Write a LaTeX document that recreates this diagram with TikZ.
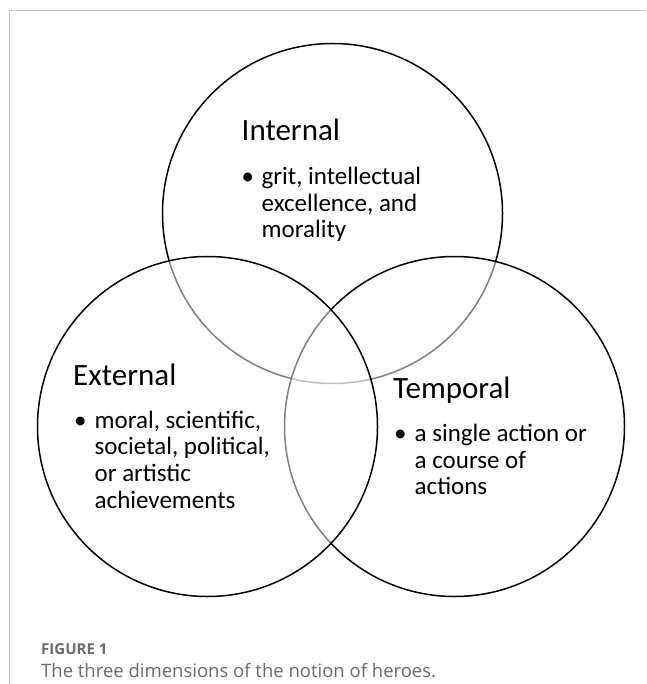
\documentclass[tikz,border=0pt]{standalone}
\usepackage{fontspec}
\setmainfont{Carlito}
\newfontfamily\captionfont{Open Sans}
\begin{document}
\begin{tikzpicture}[x=1pt,y=-1pt,
  ring/.style={draw=black,line width=1.5pt,fill=white,fill opacity=0.5},
  heading/.style={anchor=base west,inner sep=0pt,font=\fontsize{31}{37}\selectfont},
  bulletmark/.style={anchor=base west,inner sep=0pt,font=\fontsize{25}{27}\selectfont},
  itemline/.style={anchor=base west,inner sep=0pt,font=\fontsize{25}{27}\selectfont},
  framerule/.style={draw=black!22,line width=1pt},
  caphead/.style={anchor=base west,inner sep=0pt,text=black!58,font=\captionfont\fontsize{15}{17}\selectfont\bfseries},
  captext/.style={anchor=base west,inner sep=0pt,text=black!58,font=\captionfont\fontsize{18.5}{21}\selectfont},
]
\useasboundingbox (0,0) rectangle (646,684);
\fill[white] (0,0) rectangle (646,684);

% page frame
\coordinate (frameTL) at (9.5,11);
\coordinate (frameTR) at (646,11);
\coordinate (frameBL) at (9.5,684);
\draw[framerule] (frameBL) -- (frameTL) -- (frameTR);

% the three circles, each veiling the arcs drawn before it
\node[ring,circle,minimum size=340pt,inner sep=0pt] (internal) at (332.5,213.5) {};
\node[ring,circle,minimum size=340pt,inner sep=0pt] (temporal) at (454.5,426.5) {};
\node[ring,circle,minimum size=340pt,inner sep=0pt] (external) at (207.5,426.5) {};

% Internal
\node[heading] (intT) at (241.5,140.7) {Internal};
\node[bulletmark] (intB) at (241.5,185) {•};
\node[itemline] (intL1) at (261.5,185) {grit, intellectual};
\node[itemline] (intL2) at (261.5,211.5) {excellence, and};
\node[itemline] (intL3) at (261.5,238) {morality};

% External
\node[heading] (extT) at (73,385) {External};
\node[bulletmark] (extB) at (74,428) {•};
\node[itemline] (extL1) at (94.5,428) {moral, scientific,};
\node[itemline] (extL2) at (94.5,454.7) {societal, political,};
\node[itemline] (extL3) at (94.5,481.4) {or artistic};
\node[itemline] (extL4) at (94.5,508) {achievements};

% Temporal
\node[heading] (temT) at (393,398) {Temporal};
\node[bulletmark] (temB) at (394,441.7) {•};
\node[itemline] (temL1) at (414.5,441.7) {a single action or};
\node[itemline] (temL2) at (414.5,468.2) {a course of};
\node[itemline] (temL3) at (414.5,494.8) {actions};

% caption
\node[caphead] (capA) at (41,654) {FIGURE 1};
\node[captext] (capB) at (41,677) {The three dimensions of the notion of heroes.};
\end{tikzpicture}
\end{document}
